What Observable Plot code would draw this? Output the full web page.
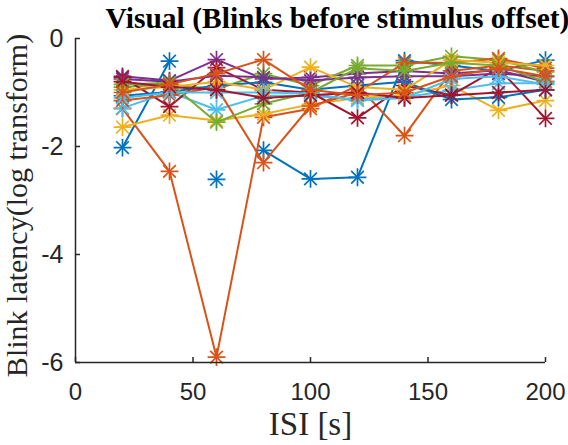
<!DOCTYPE html>
<html>
<head>
<meta charset="utf-8">
<script src="https://cdn.jsdelivr.net/npm/d3@7"></script>
<script src="https://cdn.jsdelivr.net/npm/@observablehq/plot@0.6"></script>
<style>
  html, body { margin: 0; padding: 0; background: #fff; }
</style>
</head>
<body>
<div id="chart"></div>
<script>
// ISI values (s)
const isi = [20, 40, 60, 80, 100, 120, 140, 160, 180, 200];

// Blink latency (log transform), one array per participant
const blue1   = [-2.02, -0.42, NaN, -2.07, -2.60, -2.57, -0.41, -0.50, -0.60, -0.40];
const orange1 = [-1.30, -2.46, -5.90, -1.46, -1.30, -0.87, -1.80, -0.60, -0.50, -0.60];
const yellow1 = [-1.64, -1.42, -1.52, -1.40, -1.22, -1.10, -1.05, -0.87, -1.33, -1.15];
const purple1 = [-0.70, -0.78, -0.39, -0.75, -0.72, -0.65, -0.60, -0.65, -0.59, -0.80];
const green1  = [-0.90, -0.85, -0.94, -0.65, -0.87, -0.50, -0.50, -0.33, -0.40, -0.62];
const cyan1   = [-1.29, -0.99, -1.32, -1.06, -1.06, -1.13, -1.09, -0.96, -0.83, -0.83];
const red1    = [-0.72, -1.26, -0.54, -0.95, -1.00, -1.47, -0.87, -1.05, -0.55, -1.48];
const blue2   = [-1.06, -0.99, -0.87, -0.81, -0.95, -0.87, -0.80, -1.13, -1.09, -0.95];
const orange2 = [-1.15, -1.05, -0.90, -2.30, -1.25, -1.00, -0.45, -0.45, -0.37, -0.55];
const yellow2 = [-0.95, -0.90, -0.80, -0.95, -0.53, -0.90, -0.95, -0.40, -0.45, -0.50];
const purple2 = [-0.75, -0.80, -0.69, -0.72, -0.78, -0.72, -0.70, -0.70, -0.65, -0.70];
const green2  = [-0.85, -0.82, -1.55, -1.21, -1.00, -0.55, -0.60, -0.45, -0.50, -0.80];
const cyan2   = [-1.10, -1.00, -1.00, -1.00, -1.02, -1.15, -1.10, -0.75, -0.70, -0.85];
const red2    = [-0.80, -0.90, -0.95, -1.10, -1.05, -1.00, -1.10, -1.05, -1.00, -0.95];
const orange3 = [-1.00, -0.85, -0.65, -0.39, -0.95, -1.05, -1.00, -0.70, -0.55, -0.70];
const blue3   = [NaN, NaN, -2.61, NaN, NaN, NaN, NaN, NaN, NaN, NaN];

const seriesValues = [blue1, orange1, yellow1, purple1, green1, cyan1, red1,
                      blue2, orange2, yellow2, purple2, green2, cyan2, red2, orange3, blue3];
const seriesColors = ["#0072BD", "#D95319", "#EDB120", "#7E2F8E", "#77AC30", "#4DBEEE", "#A2142F",
                      "#0072BD", "#D95319", "#EDB120", "#7E2F8E", "#77AC30", "#4DBEEE", "#A2142F", "#D95319", "#0072BD"];

const xTicks = [0, 50, 100, 150, 200];
const yTicks = [0, -2, -4, -6];
const titleText = "Visual (Blinks before stimulus offset)";
const xLabel = "ISI [s]";
const yLabel = "Blink latency(log transform)";

const W = 568, H = 445;
const mL = 75, mR = 23, mT = 38, mB = 83;
const plotW = W - mL - mR, plotH = H - mT - mB;
const axisColor = "#262626";
const serif = "'Liberation Serif', 'Times New Roman', serif";
const sans = "'Liberation Sans', Arial, Helvetica, sans-serif";

const seriesMarks = seriesValues.flatMap((vals, i) => {
  const rows = isi.map((x, j) => ({x, y: vals[j]}));
  const c = seriesColors[i];
  const pts = rows.filter(d => !isNaN(d.y));
  return [
    Plot.line(rows, {x: "x", y: "y", stroke: c, strokeWidth: 2}),
    Plot.dot(pts, {x: "x", y: "y", symbol: "plus", r: 5.8, stroke: c, strokeWidth: 1.7}),
    Plot.dot(pts, {x: "x", y: "y", symbol: "times", r: 5.8, stroke: c, strokeWidth: 1.7})
  ];
});

const chart = Plot.plot({
  width: W,
  height: H,
  marginLeft: mL,
  marginRight: mR,
  marginTop: mT,
  marginBottom: mB,
  style: {background: "#fff", fontFamily: sans, overflow: "visible"},
  x: {domain: [0, 200]},
  y: {domain: [-6, 0]},
  marks: [
    ...seriesMarks,
    // axis lines
    Plot.ruleX([0], {stroke: axisColor, strokeWidth: 1.5}),
    Plot.ruleY([-6], {stroke: axisColor, strokeWidth: 1.5}),
    // inward ticks
    Plot.tickX(xTicks, {x: d => d, stroke: axisColor, strokeWidth: 1.5, insetTop: plotH - 5}),
    Plot.tickY(yTicks, {y: d => d, stroke: axisColor, strokeWidth: 1.5, insetRight: plotW - 5}),
    // tick labels
    Plot.axisX({ticks: xTicks, tickSize: 0, tickPadding: 20, tickFormat: d => String(d), fontSize: 24, fontFamily: sans, fill: axisColor, label: null}),
    Plot.axisY({ticks: yTicks, tickSize: 0, tickPadding: 12, tickFormat: d => String(d), fontSize: 25, fontFamily: sans, fill: axisColor, label: null}),
    // title and axis labels
    Plot.text([titleText], {frameAnchor: "top", dx: 27, dy: -20, text: d => d, fontSize: 29.5, fontWeight: "bold", fontFamily: serif, fill: "#000", lineAnchor: "middle", textAnchor: "middle"}),
    Plot.text([xLabel], {frameAnchor: "bottom", dy: 62, text: d => d, fontSize: 33, fontFamily: serif, fill: axisColor, lineAnchor: "middle", textAnchor: "middle"}),
    Plot.text([yLabel], {frameAnchor: "left", dx: -58, dy: 5, rotate: -90, text: d => d, fontSize: 30, fontFamily: serif, fill: axisColor, lineAnchor: "middle", textAnchor: "middle"})
  ]
});

document.getElementById("chart").appendChild(chart);
</script>
</body>
</html>
